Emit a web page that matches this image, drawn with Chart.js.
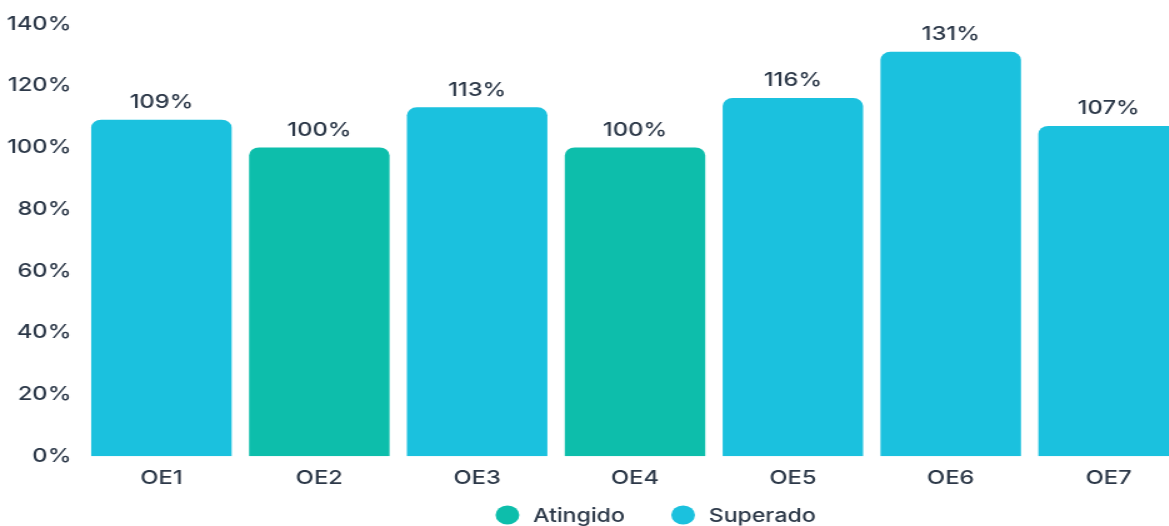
<!DOCTYPE html>
<html><head><meta charset="utf-8">
<script src="https://cdn.jsdelivr.net/npm/chart.js@4"></script>
<style>
html,body{margin:0;padding:0;background:#fff;overflow:hidden;width:1169px;height:526px;}
#wrap{position:absolute;left:0;top:0;width:1000px;height:540px;transform:scaleX(1.25);transform-origin:0 0;}
#c{display:block;width:1000px;height:540px;}
</style></head>
<body><div id="wrap"><canvas id="c" width="1000" height="540"></canvas></div>
<script>
const categories = ['OE1','OE2','OE3','OE4','OE5','OE6','OE7'];
const atingido = [null,100,null,100,null,null,null];
const superado = [109,null,113,null,116,131,107];
const yTicks = [0,20,40,60,80,100,120,140];

const textColor = '#2c3848';
const FONT = {family:'Inter', size:19, weight:'500'};
const fontStr = '500 19px Inter';

const labelPlugin = {
  id:'barLabels',
  afterDatasetsDraw(chart){
    const ctx = chart.ctx;
    ctx.save();
    ctx.font = fontStr;
    ctx.fillStyle = textColor;
    ctx.textAlign = 'center';
    ctx.textBaseline = 'bottom';
    chart.data.datasets.forEach((ds,i)=>{
      const meta = chart.getDatasetMeta(i);
      meta.data.forEach((bar,j)=>{
        const v = ds.data[j];
        if(v==null) return;
        ctx.fillText(v+'%', bar.x, bar.y-8);
      });
    });
    ctx.restore();
  }
};

const legendPlugin = {
  id:'customLegend',
  afterDraw(chart){
    const ctx = chart.ctx;
    ctx.save();
    ctx.font = '500 18.5px Inter';
    const r = 9.5, gap = 11, itemGap = 37, cy = 515, centerX = 524.5;
    const items = chart.data.datasets.map(ds=>({text:ds.label,color:ds.backgroundColor,w:ctx.measureText(ds.label).width}));
    let total = 0;
    items.forEach((it,i)=>{ total += 2*r + gap + it.w + (i? itemGap:0); });
    let x = centerX - total/2;
    items.forEach(it=>{
      ctx.fillStyle = it.color;
      ctx.beginPath(); ctx.arc(x+r, cy, r, 0, Math.PI*2); ctx.fill();
      ctx.fillStyle = textColor;
      ctx.textAlign = 'left'; ctx.textBaseline = 'middle';
      ctx.fillText(it.text, x+2*r+gap, cy+1);
      x += 2*r + gap + it.w + itemGap;
    });
    ctx.restore();
  }
};

new Chart(document.getElementById('c'),{
  type:'bar',
  data:{labels:categories,datasets:[
    {label:'Atingido',data:atingido,backgroundColor:'#0dbeab',borderRadius:{topLeft:8,topRight:8},borderSkipped:'bottom',grouped:false,barPercentage:0.89,categoryPercentage:1},
    {label:'Superado',data:superado,backgroundColor:'#1bc1de',borderRadius:{topLeft:8,topRight:8},borderSkipped:'bottom',grouped:false,barPercentage:0.89,categoryPercentage:1}
  ]},
  options:{
    responsive:false,animation:false,devicePixelRatio:1,
    layout:{padding:{left:0,right:50,top:24,bottom:39}},
    scales:{
      x:{grid:{display:false,drawTicks:false},border:{display:false},ticks:{color:textColor,font:FONT,padding:11}},
      y:{min:0,max:140,afterBuildTicks(s){s.ticks=yTicks.map(v=>({value:v}));},afterFit(s){s.width=66;},grid:{display:false,drawTicks:false},border:{display:false},
         ticks:{color:textColor,font:FONT,padding:9,callback:v=>v+'%'}}
    },
    plugins:{legend:{display:false},tooltip:{enabled:false}}
  },
  plugins:[labelPlugin,legendPlugin]
});
</script></body></html>
